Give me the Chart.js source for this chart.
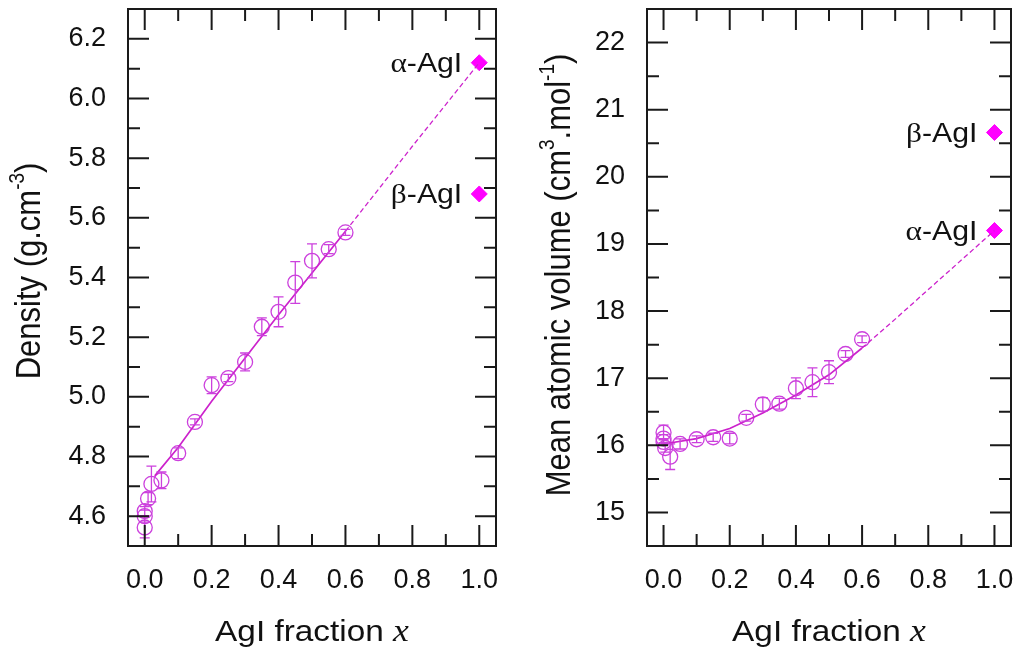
<!DOCTYPE html>
<html>
<head>
<meta charset="utf-8">
<script src="https://cdn.jsdelivr.net/npm/chart.js@4.4.0/dist/chart.umd.min.js"></script>
<style>
body{margin:0;background:#fff;}
#wrap{position:relative;width:1020px;height:650px;}
canvas{position:absolute;top:0;}
#density{left:0;}
#volume{left:510px;}
</style>
</head>
<body>
<div id="wrap">
<canvas id="density" width="510" height="650"></canvas>
<canvas id="volume" width="510" height="650"></canvas>
</div>
<script>
// measured glasses, x = AgI fraction
var densX   = [0, 0, 0, 0.01, 0.02, 0.05, 0.1, 0.15, 0.2, 0.25, 0.3, 0.35, 0.4, 0.45, 0.5, 0.55, 0.6];
var densY   = [4.562, 4.600, 4.617, 4.659, 4.708, 4.720, 4.811, 4.916, 5.039, 5.063, 5.117, 5.235, 5.285, 5.383, 5.456, 5.495, 5.551];
var densErr = [0.035, 0.02, 0.015, 0.02, 0.06, 0.028, 0.018, 0.01, 0.028, 0.012, 0.03, 0.03, 0.05, 0.07, 0.057, 0.015, 0.01];

var volX   = [0, 0, 0, 0.005, 0.02, 0.05, 0.1, 0.15, 0.2, 0.25, 0.3, 0.35, 0.4, 0.45, 0.5, 0.55, 0.6];
var volY   = [16.19, 16.10, 16.05, 15.96, 15.83, 16.02, 16.09, 16.12, 16.10, 16.41, 16.61, 16.62, 16.85, 16.94, 17.09, 17.36, 17.58];
var volErr = [0.11, 0.06, 0.05, 0.06, 0.19, 0.075, 0.05, 0.06, 0.08, 0.05, 0.1, 0.08, 0.155, 0.215, 0.17, 0.05, 0.05];

// fitted curves (solid over the data, dashed towards pure AgI)
var densFitX = [0.03, 0.1, 0.2, 0.3, 0.4, 0.5, 0.6];
var densFitY = [4.735, 4.83, 4.985, 5.13, 5.275, 5.415, 5.555];
var densExtX = [0.6, 0.8, 1.0];
var densExtY = [5.555, 5.84, 6.12];

var volFitX = [0, 0.1, 0.2, 0.3, 0.4, 0.5, 0.6];
var volFitY = [16.02, 16.10, 16.25, 16.48, 16.75, 17.05, 17.45];
var volExtX = [0.6, 0.7, 0.8, 0.9, 1.0];
var volExtY = [17.45, 17.88, 18.32, 18.76, 19.20];

// crystalline AgI
var crystalX     = [1.0, 1.0];
var crystalNames = ['α', 'β'];
var densCrystalY = [6.12, 5.68];
var volCrystalY  = [19.20, 20.66];

// ticks
var xTicks      = [0, 0.2, 0.4, 0.6, 0.8, 1.0];
var xTickLabels = ['0.0', '0.2', '0.4', '0.6', '0.8', '1.0'];
var xMinor      = [0.1, 0.3, 0.5, 0.7, 0.9];
var densTicks      = [4.6, 4.8, 5.0, 5.2, 5.4, 5.6, 5.8, 6.0, 6.2];
var densTickLabels = ['4.6', '4.8', '5.0', '5.2', '5.4', '5.6', '5.8', '6.0', '6.2'];
var densMinor      = [4.7, 4.9, 5.1, 5.3, 5.5, 5.7, 5.9, 6.1];
var volTicks      = [15, 16, 17, 18, 19, 20, 21, 22];
var volTickLabels = ['15', '16', '17', '18', '19', '20', '21', '22'];
var volMinor      = [15.5, 16.5, 17.5, 18.5, 19.5, 20.5, 21.5];

var SANS = '"Liberation Sans", Arial, sans-serif';
var SERIF = '"Liberation Serif", "Times New Roman", serif';
var lineColor = '#cc22cc';
var markColor = '#cc40dd';
var diamondColor = '#ff00ff';
var inkColor = '#111';

function pts(xs, ys) {
    return xs.map(function(x, i){ return {x: x, y: ys[i]}; });
}

// draws a row of text pieces (mixed fonts) with a horizontal stretch
function drawRuns(ctx, runs, x, y, align, sx) {
    var w = 0;
    runs.forEach(function(r){ ctx.font = r.font; r.w = ctx.measureText(r.text).width; w += r.w; });
    var cx = align === 'right' ? -w : (align === 'center' ? -w / 2 : 0);
    ctx.save();
    ctx.translate(x, y);
    ctx.scale(sx, 1);
    ctx.fillStyle = inkColor;
    ctx.textAlign = 'left';
    ctx.textBaseline = 'alphabetic';
    runs.forEach(function(r){
        ctx.font = r.font;
        ctx.fillText(r.text, cx, r.dy || 0);
        cx += r.w;
    });
    ctx.restore();
}

function makeDecor(cfg) {
    return {
        id: 'decor',
        afterDatasetsDraw: function(chart) {
            var ctx = chart.ctx, xs = chart.scales.x, ys = chart.scales.y, a = chart.chartArea;

            // error bars
            ctx.save();
            ctx.strokeStyle = markColor;
            ctx.lineWidth = 1.3;
            ctx.beginPath();
            cfg.ex.forEach(function(xv, i){
                var px = xs.getPixelForValue(xv);
                var t = ys.getPixelForValue(cfg.ey[i] + cfg.err[i]);
                var b = ys.getPixelForValue(cfg.ey[i] - cfg.err[i]);
                ctx.moveTo(px, t); ctx.lineTo(px, b);
                ctx.moveTo(px - 5, t); ctx.lineTo(px + 5, t);
                ctx.moveTo(px - 5, b); ctx.lineTo(px + 5, b);
            });
            ctx.stroke();
            ctx.restore();

            // frame with inward ticks on all four sides
            ctx.save();
            ctx.strokeStyle = '#1a1a1a';
            ctx.lineWidth = 2;
            ctx.strokeRect(a.left, a.top, a.right - a.left, a.bottom - a.top);
            ctx.beginPath();
            function xt(vals, len) {
                vals.forEach(function(v){
                    var p = xs.getPixelForValue(v);
                    ctx.moveTo(p, a.bottom); ctx.lineTo(p, a.bottom - len);
                    ctx.moveTo(p, a.top); ctx.lineTo(p, a.top + len);
                });
            }
            function yt(vals, len) {
                vals.forEach(function(v){
                    var p = ys.getPixelForValue(v);
                    ctx.moveTo(a.left, p); ctx.lineTo(a.left + len, p);
                    ctx.moveTo(a.right, p); ctx.lineTo(a.right - len, p);
                });
            }
            xt(xTicks, 21); xt(xMinor, 12);
            yt(cfg.yMajor, 21); yt(cfg.yMinor, 12);
            ctx.stroke();
            ctx.restore();

            // crystal phase labels
            crystalX.forEach(function(xv, i){
                var px = xs.getPixelForValue(xv);
                var py = ys.getPixelForValue(cfg.cy[i]);
                drawRuns(ctx, [
                    {text: crystalNames[i], font: '28px ' + SERIF},
                    {text: '-AgI', font: '27px ' + SANS}
                ], px - 17, py + 9, 'right', 1.12);
            });

            // x title
            drawRuns(ctx, [
                {text: 'AgI fraction ', font: '29px ' + SANS},
                {text: 'x', font: 'italic 31px ' + SERIF}
            ], (a.left + a.right) / 2, 641, 'center', 1.15);

            // y title (rotated)
            ctx.save();
            ctx.translate(cfg.yTitleX, cfg.yTitleY);
            ctx.rotate(-Math.PI / 2);
            ctx.scale(1, 1.12);
            drawRuns(ctx, cfg.yTitle, 0, 0, 'center', 1);
            ctx.restore();
        }
    };
}

function makeChart(id, d) {
    return new Chart(document.getElementById(id), {
        type: 'scatter',
        data: {
            datasets: [
                {data: pts(d.fitX, d.fitY), showLine: true, borderColor: lineColor, borderWidth: 1.7, pointRadius: 0, fill: false},
                {data: pts(d.extX, d.extY), showLine: true, borderColor: lineColor, borderWidth: 1.3, borderDash: [5, 3], pointRadius: 0, fill: false},
                {data: pts(d.x, d.y), pointStyle: 'circle', pointRadius: 7.5, borderWidth: 1.3, borderColor: markColor, backgroundColor: 'rgba(255,255,255,0)'},
                {data: pts(crystalX, d.cy), pointStyle: 'rectRot', pointRadius: 8, borderWidth: 1, borderColor: diamondColor, backgroundColor: diamondColor}
            ]
        },
        options: {
            responsive: false,
            animation: false,
            devicePixelRatio: 1,
            layout: {padding: {top: 8, right: d.padRight, left: 0, bottom: 0}},
            plugins: {legend: {display: false}, tooltip: {enabled: false}},
            scales: {
                x: {
                    type: 'linear', min: -0.05, max: 1.05,
                    grid: {display: false, drawTicks: false},
                    border: {display: false},
                    afterBuildTicks: function(s){ s.ticks = xTicks.map(function(v){ return {value: v}; }); },
                    afterFit: function(s){ s.height = 104; s.paddingLeft = 0; s.paddingRight = 0; },
                    ticks: {
                        callback: function(v, i){ return xTickLabels[i]; },
                        font: {family: SANS, size: 27}, color: inkColor,
                        padding: 18, maxRotation: 0, autoSkip: false
                    }
                },
                y: {
                    type: 'linear', min: d.yMin, max: d.yMax,
                    grid: {display: false, drawTicks: false},
                    border: {display: false},
                    afterBuildTicks: function(s){ s.ticks = d.yMajor.map(function(v){ return {value: v}; }); },
                    afterFit: function(s){ s.width = d.yWidth; s.paddingTop = 0; s.paddingBottom = 0; },
                    ticks: {
                        callback: function(v, i){ return d.yLabels[i]; },
                        font: {family: SANS, size: 27}, color: inkColor,
                        padding: 22, autoSkip: false
                    }
                }
            }
        },
        plugins: [makeDecor({
            ex: d.x, ey: d.y, err: d.err, cy: d.cy,
            yMajor: d.yMajor, yMinor: d.yMinor,
            yTitle: d.yTitle, yTitleX: d.yTitleX, yTitleY: d.yTitleY
        })]
    });
}

makeChart('density', {
    x: densX, y: densY, err: densErr,
    fitX: densFitX, fitY: densFitY, extX: densExtX, extY: densExtY,
    cy: densCrystalY,
    yMin: 4.5, yMax: 6.3, yMajor: densTicks, yMinor: densMinor, yLabels: densTickLabels,
    yWidth: 128, padRight: 14,
    yTitle: [
        {text: 'Density (g.cm', font: '31px ' + SANS},
        {text: '-3', font: '19px ' + SANS, dy: -14},
        {text: ')', font: '31px ' + SANS}
    ],
    yTitleX: 40, yTitleY: 271
});

makeChart('volume', {
    x: volX, y: volY, err: volErr,
    fitX: volFitX, fitY: volFitY, extX: volExtX, extY: volExtY,
    cy: volCrystalY,
    yMin: 14.5, yMax: 22.5, yMajor: volTicks, yMinor: volMinor, yLabels: volTickLabels,
    yWidth: 137, padRight: 6,
    yTitle: [
        {text: 'Mean atomic volume (cm', font: '31px ' + SANS},
        {text: '3', font: '19px ' + SANS, dy: -14},
        {text: '.mol', font: '31px ' + SANS},
        {text: '-1', font: '19px ' + SANS, dy: -14},
        {text: ')', font: '31px ' + SANS}
    ],
    yTitleX: 60, yTitleY: 275
});
</script>
</body>
</html>
